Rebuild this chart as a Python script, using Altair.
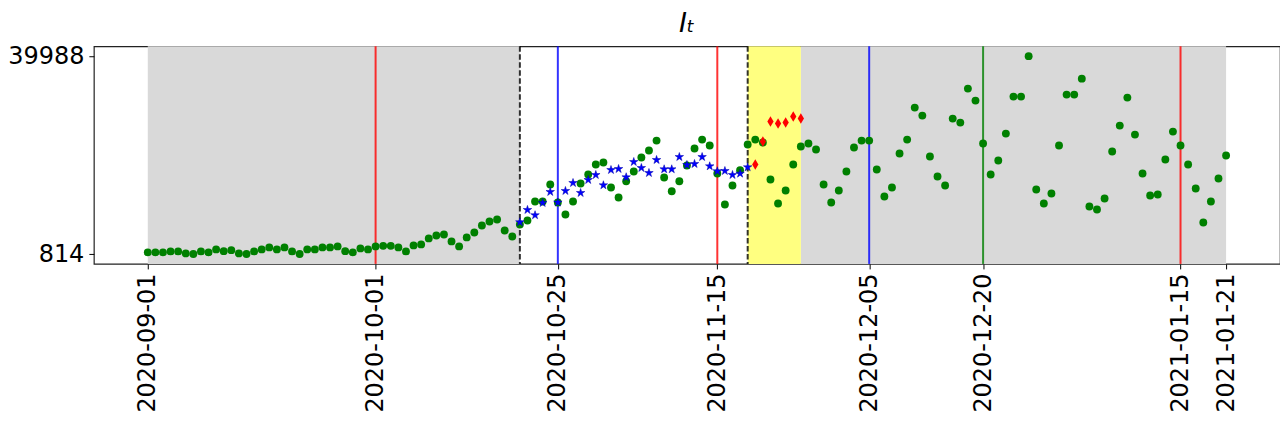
import altair as alt
import pandas as pd

# ---------------- data ----------------
start_date = "2020-09-01"
green_values = [
    1130, 1130, 1130, 1328, 1328, 933, 814, 1328, 1130, 1724,
    1387, 1585, 933, 814, 1328, 1724, 2119, 1724, 2119, 1328,
    814, 1724, 1724, 2119, 2119, 2317, 1387, 1130, 1921, 1724,
    2317, 2436, 2436, 2119, 1328, 2515, 2712, 3899, 4492, 4690,
    3306, 2317, 4097, 5085, 6470, 7261, 7656, 5481, 4294, 6667,
    7458, 11216, 11216, 14577, 11018, 8645, 11216, 14775, 16555, 18532,
    18928, 13984, 12007, 15230, 17148, 19917, 21301, 23278, 15962, 13252,
    15230, 18335, 21696, 23476, 22290, 16753, 10622, 14380, 17405, 22487,
    23476, 22883, 15566, 10820, 13391, 18532, 22092, 22685, 21499, 14577,
    11018, 13391, 17148, 21894, 23278, 23278, 17544, 12204, 13984, 20708,
    23476, 29804, 28222, 20114, 16159, 14380, 27629, 26838, 33561, 31188,
    22685, 16555, 19323, 24663, 31979, 31979, 39988, 13589, 10820, 12798,
    22290, 32375, 32375, 35539, 10227, 9634, 11809, 21103, 26245, 31782,
    24465, 16753, 12402, 12600, 19521, 25058, 22290, 18532, 13786, 7063,
    11216, 15764, 20312,
]
star_start = "2020-10-20"
star_values = [
    7122, 9555, 8506, 10939, 13114, 11018, 13312, 14894, 12916, 15487,
    16476, 14439, 17465, 17662, 16021, 19047, 17860, 16871, 19442, 17603,
    17603, 20035, 18453, 18651, 20035, 18196, 17207, 17267, 16476, 16753,
    17999,
]
diamond_start = "2020-11-20"
diamond_values = [18532, 23081, 27036, 26640, 26838, 28025, 27629]

tick_dates = ["2020-09-01", "2020-10-01", "2020-10-25", "2020-11-15",
              "2020-12-05", "2020-12-20", "2021-01-15", "2021-01-21"]
y_ticks = [814, 39988]

red_line_dates = ["2020-10-01", "2020-11-15", "2021-01-15"]
blue_line_dates = ["2020-10-25", "2020-12-05"]
green_line_dates = ["2020-12-20"]
dashed_dates = ["2020-10-20", "2020-11-19"]
gray_starts = ["2020-09-01", "2020-11-26"]
gray_ends = ["2020-10-20", "2021-01-21"]
yellow_starts = ["2020-11-19"]
yellow_ends = ["2020-11-26"]

# ---------------- helpers ----------------
t0 = pd.Timestamp(start_date)


def day(d):
    return (pd.Timestamp(d) - t0).days


def series(start, values):
    s = day(start)
    return pd.DataFrame({"day": [s + i for i in range(len(values))], "v": values})


green_df = series(start_date, green_values)
star_df = series(star_start, star_values)
diamond_df = series(diamond_start, diamond_values)

tick_days = [day(d) for d in tick_dates]
last_day = day(tick_dates[-1])
xm = 0.05 * last_day
ym = 0.05 * (y_ticks[1] - y_ticks[0])

label_expr = "[" + ",".join("'%s'" % d for d in tick_dates) + "][indexof([" + \
    ",".join(str(t) for t in tick_days) + "], datum.value)]"

FONT = "DejaVu Sans"
xscale = alt.Scale(domain=[-xm, last_day + xm], nice=False, zero=False)
yscale = alt.Scale(domain=[y_ticks[0] - ym, y_ticks[1] + ym], nice=False, zero=False)
xaxis = alt.Axis(values=tick_days, labelExpr=label_expr, labelAngle=270,
                 labelFontSize=24, labelFont=FONT, labelColor="black",
                 tickSize=5, tickColor="black", labelPadding=4, grid=False,
                 domain=False, title=None, labelOverlap=False, labelFlush=False)
yaxis = alt.Axis(values=y_ticks, format="d", labelFontSize=24, labelFont=FONT,
                 labelColor="black", tickSize=5, tickColor="black", labelPadding=5,
                 grid=False, domain=False, title=None, labelOverlap=False,
                 labelFlush=False)

spans_gray = pd.DataFrame({"a": [day(d) for d in gray_starts], "b": [day(d) for d in gray_ends]})
spans_yellow = pd.DataFrame({"a": [day(d) for d in yellow_starts], "b": [day(d) for d in yellow_ends]})


def vlines(dates):
    return pd.DataFrame({"day": [day(d) for d in dates]})


gray = alt.Chart(spans_gray).mark_rect(color="#d9d9d9").encode(
    x=alt.X("a:Q", scale=xscale, axis=xaxis), x2="b:Q")
yellow = alt.Chart(spans_yellow).mark_rect(color="#ffff80").encode(
    x=alt.X("a:Q", scale=xscale, axis=xaxis), x2="b:Q")


def rule(df, color, dash=None, width=2, opacity=0.8):
    kw = dict(color=color, strokeWidth=width, opacity=opacity)
    if dash:
        kw["strokeDash"] = dash
    return alt.Chart(df).mark_rule(**kw).encode(
        x=alt.X("day:Q", scale=xscale, axis=xaxis))


red_rules = rule(vlines(red_line_dates), "#ff0000")
blue_rules = rule(vlines(blue_line_dates), "#0000ff")
green_rules = rule(vlines(green_line_dates), "#008000")
dash_rules = rule(vlines(dashed_dates), "#000000", dash=[5.5, 2.5], width=2, opacity=0.8)

STAR = ("M0,-1L0.2234,-0.3074L0.951,-0.309L0.3614,0.1174L0.588,0.809L0,0.38"
        "L-0.588,0.809L-0.3614,0.1174L-0.951,-0.309L-0.2234,-0.3074Z")
THIN_DIAMOND = "M0,-1L0.6,0L0,1L-0.6,0Z"

green_pts = alt.Chart(green_df).mark_point(shape="circle", filled=True, color="#008000",
                                           opacity=1, size=62).encode(
    x=alt.X("day:Q", scale=xscale, axis=xaxis),
    y=alt.Y("v:Q", scale=yscale, axis=yaxis))
star_pts = alt.Chart(star_df).mark_point(shape=STAR, filled=True, color="#0000ff",
                                         stroke="#0000aa", strokeWidth=0.5,
                                         opacity=1, size=80).encode(
    x=alt.X("day:Q", scale=xscale, axis=xaxis),
    y=alt.Y("v:Q", scale=yscale, axis=yaxis))
diamond_pts = alt.Chart(diamond_df).mark_point(shape=THIN_DIAMOND, filled=True, color="#ff0000",
                                               opacity=1, size=110).encode(
    x=alt.X("day:Q", scale=xscale, axis=xaxis),
    y=alt.Y("v:Q", scale=yscale, axis=yaxis))

chart = alt.layer(
    gray, yellow, red_rules, blue_rules, green_rules, dash_rules,
    green_pts, star_pts, diamond_pts,
).properties(
    width=1188, height=218,
    title=alt.TitleParams(text="Iₜ", font=FONT, fontSize=27, fontStyle="italic",
                          fontWeight="normal", color="black", anchor="middle", offset=6),
    autosize=alt.AutoSizeParams(type="none"),
    padding={"left": 86, "top": 38, "right": 0, "bottom": 152},
).configure_view(stroke="#222222", strokeWidth=1.2)

chart.save("out.html", embed_options={"renderer": "svg", "actions": False})
